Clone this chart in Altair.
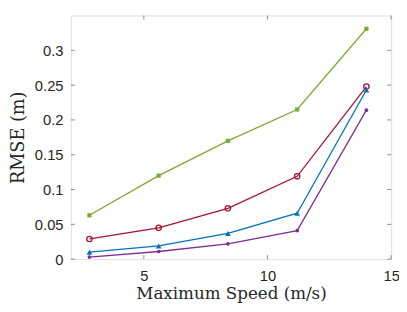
import altair as alt
import pandas as pd

speeds = [2.8, 5.6, 8.4, 11.2, 14.0]
green = [0.063, 0.120, 0.170, 0.215, 0.331]
red = [0.029, 0.045, 0.073, 0.119, 0.248]
blue = [0.010, 0.019, 0.037, 0.066, 0.243]
purple = [0.003, 0.011, 0.022, 0.041, 0.214]
series_names = ["green", "red", "blue", "purple"]
colors = ["#77AC30", "#A2142F", "#0072BD", "#7E2F8E"]
shapes = ["square", "circle", "triangle-up", "circle"]
filled = [True, False, True, True]
sizes = [18, 30, 34, 14]
x_ticks = [5, 10, 15]
y_ticks = [0, 0.05, 0.1, 0.15, 0.2, 0.25, 0.3]

W, H = 326, 248
AX = "#8a8a8a"
xs = alt.Scale(domain=[2.05, 15], nice=False, zero=False)
ys = alt.Scale(domain=[0, 0.35], nice=False)

rows = []
for name, vals in zip(series_names, [green, red, blue, purple]):
    for s, v in zip(speeds, vals):
        rows.append({"series": name, "speed": s, "rmse": v})
df = pd.DataFrame(rows)

layers = []
for name, c, sh, f, sz in zip(series_names, colors, shapes, filled, sizes):
    d = df[df.series == name]
    base = alt.Chart(d)
    layers.append(base.mark_line(color=c, strokeWidth=1.3).encode(
        x=alt.X("speed:Q", scale=xs), y=alt.Y("rmse:Q", scale=ys)))
    layers.append(base.mark_point(color=c, shape=sh, filled=f, size=sz, opacity=1,
                                  strokeWidth=1.3).encode(
        x=alt.X("speed:Q", scale=xs), y=alt.Y("rmse:Q", scale=ys)))

xt = pd.DataFrame({"v": x_ticks})
yt = pd.DataFrame({"v": y_ticks})
tk = 4
ticks = [
    alt.Chart(xt).mark_rule(color=AX).encode(x=alt.X("v:Q", scale=xs), y=alt.value(H), y2=alt.value(H - tk)),
    alt.Chart(xt).mark_rule(color=AX).encode(x=alt.X("v:Q", scale=xs), y=alt.value(0), y2=alt.value(tk)),
    alt.Chart(yt).mark_rule(color=AX).encode(y=alt.Y("v:Q", scale=ys), x=alt.value(0), x2=alt.value(tk)),
    alt.Chart(yt).mark_rule(color=AX).encode(y=alt.Y("v:Q", scale=ys), x=alt.value(W), x2=alt.value(W - tk)),
]

base_axis_x = alt.Axis(values=x_ticks, tickSize=0, grid=False, domain=False, labelFontSize=15,
                       labelFont="Liberation Sans", labelColor="#262626", labelPadding=10,
                       labelFlush=False,
                       title="Maximum Speed (m/s)", titleFont="DejaVu Serif", titleFontSize=17,
                       titleFontWeight="normal", titleColor="#262626", titlePadding=2)
base_axis_y = alt.Axis(values=y_ticks, tickSize=0, grid=False, domain=False, labelFontSize=15,
                       labelFont="Liberation Sans", labelColor="#262626", labelPadding=8,
                       labelFlush=False,
                       labelExpr="datum.value == 0 ? '0' : format(datum.value, '.2~f')",
                       title="RMSE (m)", titleFont="DejaVu Serif", titleFontSize=18,
                       titleFontWeight="normal", titleColor="#262626", titlePadding=7)

axes_layer = alt.Chart(df).mark_point(opacity=0).encode(
    x=alt.X("speed:Q", scale=xs, axis=base_axis_x),
    y=alt.Y("rmse:Q", scale=ys, axis=base_axis_y))

chart = alt.layer(axes_layer, *ticks, *layers).properties(
    width=W, height=H,
    autosize=alt.AutoSizeParams(type="none"),
    padding={"left": 64, "top": 5, "right": 8, "bottom": 43},
).configure_view(stroke=AX, strokeWidth=1).configure(background="white")

chart.save("out.html", embed_options={"renderer": "svg", "actions": False})
